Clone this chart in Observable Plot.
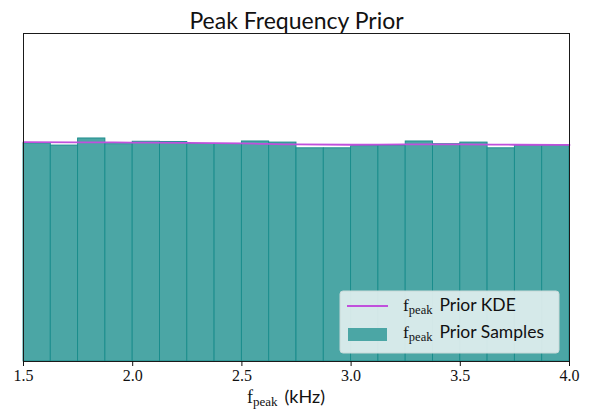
<!DOCTYPE html>
<html>
<head>
<meta charset="utf-8">
<script src="https://cdn.jsdelivr.net/npm/d3@7"></script>
<script src="https://cdn.jsdelivr.net/npm/@observablehq/plot@0.6"></script>
<style>
  html, body { margin: 0; padding: 0; background: #fff; }
  #chart svg { display: block; }
  #chart svg text.serif, #chart svg tspan.serif { font-family: "Liberation Serif", "DejaVu Serif", serif !important; }
</style>
</head>
<body>
<div id="chart"></div>
<script>
// Histogram bin edges (kHz) and density values
const binEdges = [1.5, 1.625, 1.75, 1.875, 2.0, 2.125, 2.25, 2.375, 2.5, 2.625, 2.75,
                  2.875, 3.0, 3.125, 3.25, 3.375, 3.5, 3.625, 3.75, 3.875, 4.0];
const binDensity = [0.399, 0.395, 0.408, 0.3975, 0.402, 0.4015, 0.398, 0.398, 0.4025, 0.4005,
                    0.390, 0.390, 0.394, 0.395, 0.4025, 0.3975, 0.4005, 0.390, 0.395, 0.395];
// KDE curve
const kdeX = [1.5, 1.75, 2.0, 2.25, 2.5, 2.75, 3.0, 3.25, 3.5, 3.75, 4.0];
const kdeY = [0.4012, 0.4010, 0.4005, 0.4000, 0.3990, 0.3970, 0.3965, 0.3970, 0.3970, 0.3965, 0.3962];
const xTicks = [1.5, 2.0, 2.5, 3.0, 3.5, 4.0];

const bins = binDensity.map((d, i) => ({x1: binEdges[i], x2: binEdges[i + 1], y: d}));
const kde = kdeX.map((x, i) => ({x, y: kdeY[i]}));

const SANS = "Lato, sans-serif";
const teal = "#4ba6a5";
const tealEdge = "#178b8a";
const purple = "#c050dc";

const plot = Plot.plot({
  width: 590,
  height: 414,
  marginLeft: 23,
  marginRight: 21,
  marginTop: 33,
  marginBottom: 53,
  x: {domain: [1.5, 4.0]},
  y: {domain: [0, 0.6], axis: null},
  style: {background: "#fff", overflow: "visible", fontFamily: SANS},
  marks: [
    Plot.rectY(bins, {x1: "x1", x2: "x2", y: "y", fill: teal, stroke: tealEdge, strokeWidth: 0.9}),
    Plot.line(kde, {x: "x", y: "y", stroke: purple, strokeWidth: 1.8, curve: "monotone-x"}),
    Plot.frame({stroke: "#1a1a1a", strokeWidth: 1}),
    Plot.axisX({ticks: xTicks, tickFormat: d3.format(".1f"), tickSize: 5, tickPadding: 3,
                fontSize: 16, label: null, stroke: "#111", color: "#111"}),
    Plot.text(["Peak Frequency Prior"], {frameAnchor: "top", dy: -21, fontSize: 23, fill: "#111"})
  ]
});

document.getElementById("chart").appendChild(plot);

const svg = d3.select(plot);
// tick labels are serif (numeric text of the axis)
svg.selectAll("text").filter(function () { return /^\d\.\d$/.test(this.textContent); })
  .classed("serif", true);

function fpeak(sel, str, size, sub, gap) {
  sel.append("tspan").classed("serif", true).style("font-size", size + "px").text("f");
  sel.append("tspan").classed("serif", true).style("font-size", sub + "px").attr("dy", 3).text("peak");
  sel.append("tspan").style("font-family", SANS).style("font-size", size + "px")
    .attr("dy", -3).attr("dx", gap).text(str);
}

const fy1 = 361;
const lab = svg.append("text")
  .attr("x", 247)
  .attr("y", fy1 + 42)
  .style("text-anchor", "start")
  .attr("fill", "#111");
fpeak(lab, "(kHz)", 18, 13, 7);

const lg = svg.append("g");
lg.append("rect")
  .attr("x", 340).attr("y", 291).attr("width", 219).attr("height", 62)
  .attr("rx", 3).attr("fill", "#dcecec").attr("fill-opacity", 0.95)
  .attr("stroke", "#c9d9d8").attr("stroke-width", 1);
lg.append("line")
  .attr("x1", 347).attr("x2", 388).attr("y1", 306).attr("y2", 306)
  .attr("stroke", purple).attr("stroke-width", 1.8);
lg.append("rect")
  .attr("x", 348).attr("y", 328).attr("width", 39).attr("height", 13)
  .attr("fill", teal);

function legendText(y, str) {
  const t = lg.append("text").attr("x", 403).attr("y", y).attr("fill", "#111")
    .style("text-anchor", "start");
  fpeak(t, str, 17.5, 12.5, 7);
}
legendText(311, "Prior KDE");
legendText(338, "Prior Samples");
</script>
</body>
</html>
